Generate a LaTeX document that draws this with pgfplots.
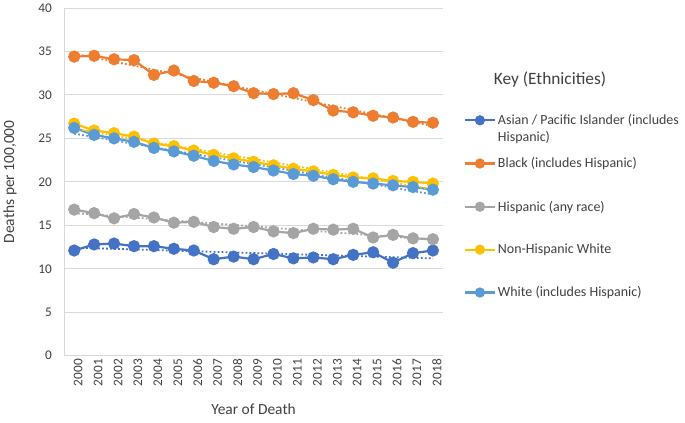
\documentclass[border=0pt]{standalone}
\usepackage{fontspec}
\setmainfont{Carlito}
\usepackage{pgfplots}
\usepackage{pgfplotstable}
\pgfplotsset{compat=1.18}
\definecolor{asian}{HTML}{4472C4}
\definecolor{black}{HTML}{ED7D31}
\definecolor{hisp}{HTML}{A5A5A5}
\definecolor{nhw}{HTML}{FFC000}
\definecolor{white}{HTML}{5B9BD5}
\definecolor{gridc}{HTML}{D9D9D9}
\definecolor{txt}{HTML}{404040}

% deaths per 100,000
\pgfplotstableread{
i year asian black hisp nhw white
0 2000 12.1 34.4 16.8 26.7 26.2
1 2001 12.8 34.5 16.4 25.9 25.4
2 2002 12.9 34.1 15.8 25.6 25.0
3 2003 12.6 34.0 16.3 25.2 24.6
4 2004 12.6 32.3 15.9 24.4 23.9
5 2005 12.3 32.8 15.3 24.1 23.5
6 2006 12.1 31.6 15.4 23.6 23.0
7 2007 11.1 31.4 14.8 23.1 22.4
8 2008 11.4 31.0 14.6 22.7 22.0
9 2009 11.1 30.2 14.8 22.3 21.7
10 2010 11.7 30.1 14.3 21.9 21.3
11 2011 11.2 30.2 14.1 21.5 20.9
12 2012 11.3 29.4 14.6 21.2 20.7
13 2013 11.1 28.2 14.5 20.8 20.3
14 2014 11.6 28.0 14.6 20.5 20.0
15 2015 11.9 27.6 13.6 20.4 19.8
16 2016 10.7 27.4 13.9 20.1 19.6
17 2017 11.8 26.9 13.5 20.0 19.4
18 2018 12.1 26.8 13.4 19.8 19.1
}\rates

\begin{document}
\begin{tikzpicture}
\begin{axis}[
  width=380pt, height=349pt, scale only axis,
  xmin=-0.5, xmax=18.5, ymin=0, ymax=40,
  xtick={0,...,18},
  xticklabels={2000,2001,2002,2003,2004,2005,2006,2007,2008,2009,2010,2011,2012,2013,2014,2015,2016,2017,2018},
  ytick={0,5,...,40},
  axis x line=bottom, axis y line=left,
  axis line style={draw=gridc, line width=1pt, -},
  major tick length=0pt,
  ymajorgrids, grid style={gridc, line width=0.9pt},
  /pgf/number format/assume math mode=true,
  tick label style={font=\fontsize{13.3}{15}\selectfont, text=txt},
  xticklabel style={rotate=90, anchor=east, yshift=-4pt},
  yticklabel style={xshift=-9pt},
  xlabel={Year of Death}, ylabel={Deaths per 100,000},
  label style={font=\fontsize{15.5}{18}\selectfont, text=txt},
  xlabel style={yshift=-11pt},
  ylabel style={yshift=15pt},
  clip=false,
  legend cell align=left,
  legend style={at={(rel axis cs:1.055,0.70)}, anchor=north west, draw=none, fill=none,
    font=\fontsize{14}{16}\selectfont, text=txt, row sep=27.6pt, inner sep=0pt},
  legend image code/.code={\draw[mark repeat=2, mark phase=2, mark size=4pt]
    plot coordinates {(0pt,0pt) (15pt,0pt) (30pt,0pt)};},
  every axis plot/.append style={line width=2.2pt, mark=*, mark size=5pt},
]
\path (rel axis cs:-0.1632,-0.192) rectangle (rel axis cs:1.6395,1.0229);

\addplot[asian, mark options={fill=asian}] table[x=i, y=asian] {\rates};
\addlegendentry{\smash{\makebox[0pt][l]{\raisebox{-17pt}{Hispanic)}}}Asian / Pacific Islander (includes}
\addplot[black, mark options={fill=black}] table[x=i, y=black] {\rates};
\addlegendentry{Black (includes Hispanic)}
\addplot[hisp, mark options={fill=hisp}] table[x=i, y=hisp] {\rates};
\addlegendentry{Hispanic (any race)}
\addplot[nhw, mark options={fill=nhw}] table[x=i, y=nhw] {\rates};
\addlegendentry{Non-Hispanic White}
\addplot[white, mark options={fill=white}] table[x=i, y=white] {\rates};
\addlegendentry{White (includes Hispanic)}

% linear trendlines, dotted
\addplot[asian, forget plot, mark=none, line width=1.8pt, dash pattern=on 1.8pt off 2.2pt]
  table[x=i, y={create col/linear regression={x=i, y=asian}}] {\rates};
\addplot[black, forget plot, mark=none, line width=1.8pt, dash pattern=on 1.8pt off 2.2pt]
  table[x=i, y={create col/linear regression={x=i, y=black}}] {\rates};
\addplot[hisp, forget plot, mark=none, line width=1.8pt, dash pattern=on 1.8pt off 2.2pt]
  table[x=i, y={create col/linear regression={x=i, y=hisp}}] {\rates};
\addplot[nhw, forget plot, mark=none, line width=1.8pt, dash pattern=on 1.8pt off 2.2pt]
  table[x=i, y={create col/linear regression={x=i, y=nhw}}] {\rates};
\addplot[white, forget plot, mark=none, line width=1.8pt, dash pattern=on 1.8pt off 2.2pt]
  table[x=i, y={create col/linear regression={x=i, y=white}}] {\rates};

\node[font=\fontsize{17.4}{20}\selectfont, text=txt] at (rel axis cs:1.283,0.794) {Key (Ethnicities)};
\end{axis}
\end{tikzpicture}
\end{document}
